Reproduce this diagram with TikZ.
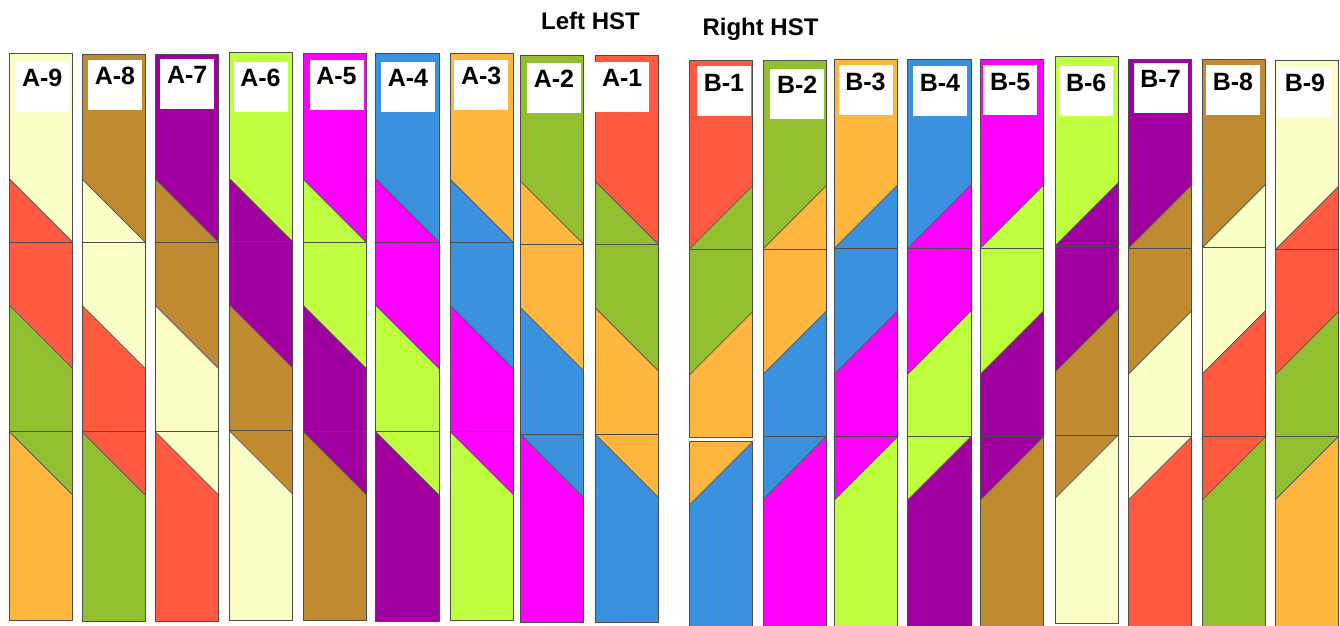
\documentclass[tikz,border=0pt]{standalone}
\usepackage{fontspec}
\setmainfont{Liberation Sans}
\definecolor{cRed}{HTML}{FF5A40}
\definecolor{cGrn}{HTML}{92BF30}
\definecolor{cOrg}{HTML}{FFB640}
\definecolor{cBlu}{HTML}{3A92DF}
\definecolor{cMag}{HTML}{FF00FF}
\definecolor{cLim}{HTML}{C0FF40}
\definecolor{cPur}{HTML}{A0009F}
\definecolor{cBrn}{HTML}{C08A30}
\definecolor{cCrm}{HTML}{FAFDC6}
\begin{document}
\begin{tikzpicture}[x=1pt,y=-1pt,
  edge/.style={draw=black!70,line width=0.9pt},
  diag/.style={draw=black!65,line width=0.8pt},
  lab/.style={fill=white,inner sep=0pt,minimum width=54pt,text height=25pt,text depth=25pt,anchor=north west,font=\bfseries\fontsize{25}{25}\selectfont},
  title/.style={font=\bfseries\fontsize{24}{24}\selectfont,anchor=base,inner sep=0pt}]
\useasboundingbox (0,0) rectangle (1340,625);
% Left HST strips
\foreach \L/\R/\T/\Ha/\Hb/\Bt/\ca/\cb/\cc/\cd/\k/\bx/\by in {
9.5/72.5/53.3/242/431.7/620.7/cCrm/cRed/cGrn/cOrg/9/15/61.7,
82/145/54/242/431.7/621/cBrn/cCrm/cRed/cGrn/8/87.7/59.3,
155.3/218.3/54/242/431.7/621/cPur/cBrn/cCrm/cRed/7/160/58.3,
229.3/292.7/52.7/241.7/430.7/620/cLim/cPur/cBrn/cCrm/6/233.3/61.7,
303.3/366/53.3/242/431.7/620.7/cMag/cLim/cPur/cBrn/5/309.3/59.3,
375.7/439/53.3/242/431.7/621/cBlu/cMag/cLim/cPur/4/380.7/61.7,
450.3/513.3/53.3/242.3/431.7/620.7/cOrg/cBlu/cMag/cLim/3/454/59.3,
520.3/583.7/55/244.3/434/622.7/cGrn/cOrg/cBlu/cMag/2/526.7/62.7,
595/658.3/55.3/244.3/434/622.7/cRed/cGrn/cOrg/cBlu/1/595/61.7}{
  \pgfmathsetmacro{\ww}{\R-\L}
  \pgfmathsetmacro{\dd}{(\Hb-\Ha-\ww)/2}
  \fill[fill=\ca] (\L,\T) rectangle (\R,\Ha);
  \fill[fill=\cb] (\L,\Ha-\ww) -- (\R,\Ha) -- (\L,\Ha) -- cycle;
  \fill[fill=\cb] (\L,\Ha) rectangle (\R,\Hb);
  \fill[fill=\cc] (\L,\Ha+\dd) -- (\R,\Ha+\dd+\ww) -- (\R,\Hb) -- (\L,\Hb) -- cycle;
  \fill[fill=\cd] (\L,\Hb) rectangle (\R,\Bt);
  \fill[fill=\cc] (\L,\Hb) -- (\R,\Hb) -- (\R,\Hb+\ww) -- cycle;
  \draw[diag] (\L,\Ha-\ww) -- (\R,\Ha);
  \draw[diag] (\L,\Ha+\dd) -- (\R,\Ha+\dd+\ww);
  \draw[diag] (\L,\Hb) -- (\R,\Hb+\ww);
  \draw[edge] (\L,\T) rectangle (\R,\Ha);
  \draw[edge] (\L,\Ha) rectangle (\R,\Hb);
  \draw[edge] (\L,\Hb) rectangle (\R,\Bt);
  \node[lab] (lA\k) at (\bx,\by) {A-\k};
}
% Right HST strips
\foreach \L/\R/\T/\Ha/\Hb/\Hc/\Bt/\ca/\cb/\cc/\cd/\k/\bx/\by in {
689.3/752.7/60/249/437.7/441.7/627/cRed/cGrn/cOrg/cBlu/1/696.7/66,
763/826/60/249/436.7/436.7/627/cGrn/cOrg/cBlu/cMag/2/770/68.3,
834.3/897.7/59/248.3/436.7/436.7/627/cOrg/cBlu/cMag/cLim/3/838.3/65,
907.7/971/59/248.3/436.7/436.7/627/cBlu/cMag/cLim/cPur/4/912.7/66,
980.3/1043.7/59/248.3/436.7/436.7/627/cMag/cLim/cPur/cBrn/5/983/65,
1055/1118.3/56.7/246/435/435/623.3/cLim/cPur/cBrn/cCrm/6/1059/66,
1128.3/1191.7/59/248.3/436.7/436.7/627/cPur/cBrn/cCrm/cRed/7/1133.3/62.7,
1202.7/1265.7/59/247.3/436.7/436.7/627/cBrn/cCrm/cRed/cGrn/8/1205.7/65,
1275.7/1338.3/60/249.3/436.7/436.7/627/cCrm/cRed/cGrn/cOrg/9/1277.7/66.7}{
  \pgfmathsetmacro{\ww}{\R-\L}
  \pgfmathsetmacro{\dd}{(\Hb-\Ha-\ww)/2}
  \fill[fill=\ca] (\L,\T) rectangle (\R,\Ha);
  \fill[fill=\cb] (\L,\Ha) -- (\R,\Ha-\ww) -- (\R,\Ha) -- cycle;
  \fill[fill=\cb] (\L,\Ha) rectangle (\R,\Hb);
  \fill[fill=\cc] (\L,\Hb-\dd) -- (\R,\Hb-\dd-\ww) -- (\R,\Hb) -- (\L,\Hb) -- cycle;
  \fill[fill=\cd] (\L,\Hc) rectangle (\R,\Bt);
  \fill[fill=\cc] (\L,\Hc) -- (\R,\Hc) -- (\L,\Hc+\ww) -- cycle;
  \draw[diag] (\L,\Ha) -- (\R,\Ha-\ww);
  \draw[diag] (\L,\Hb-\dd) -- (\R,\Hb-\dd-\ww);
  \draw[diag] (\L,\Hc+\ww) -- (\R,\Hc);
  \draw[edge] (\L,\T) rectangle (\R,\Ha);
  \draw[edge] (\L,\Ha) rectangle (\R,\Hb);
  \draw[edge] (\L,\Hc) rectangle (\R,\Bt);
  \node[lab] (lB\k) at (\bx,\by) {B-\k};
}
\node[title] (tl) at (590.5,29) {Left HST};
\node[title] (tr) at (760.5,35) {Right HST};
\end{tikzpicture}
\end{document}
